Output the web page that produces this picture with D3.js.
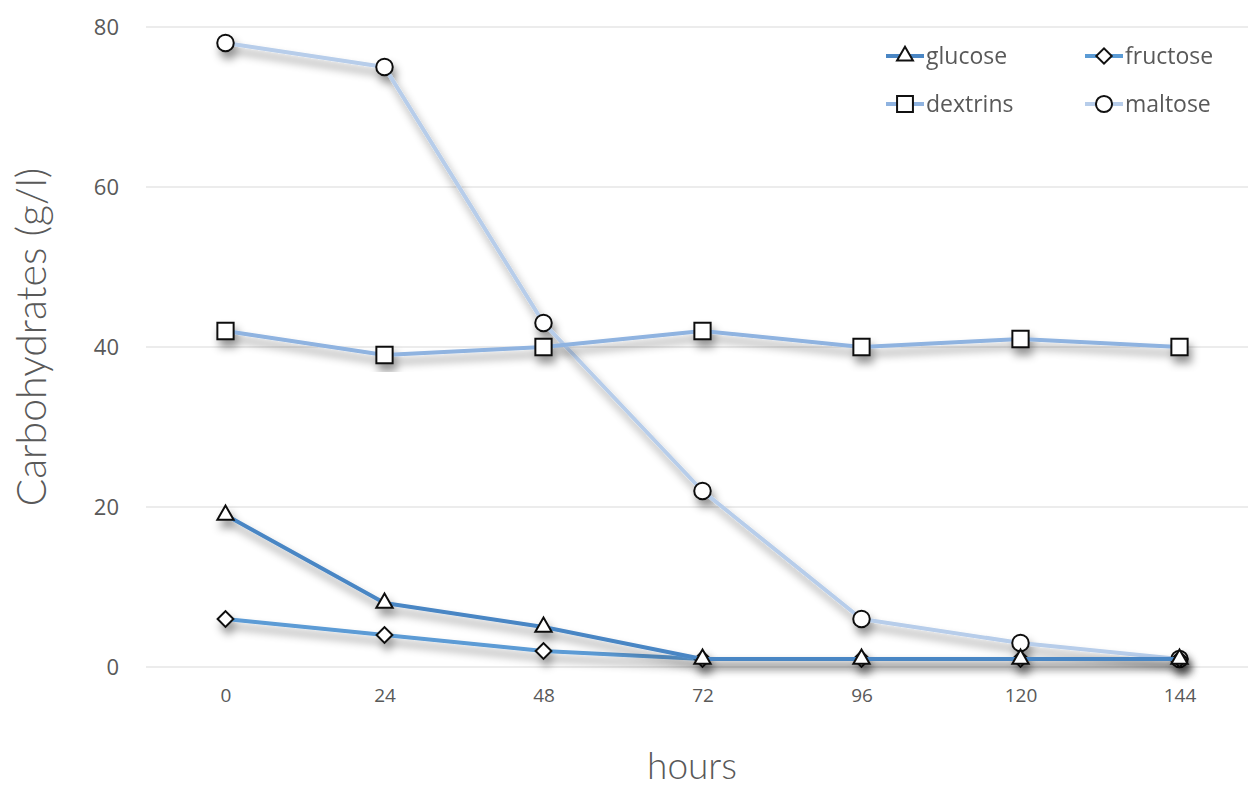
<!DOCTYPE html>
<html>
<head>
  <meta charset="utf-8">
  <script src="https://d3js.org/d3.v7.min.js"></script>
  <style>
    body { margin: 0; background: #fff; }
    .tick text { font-family: "Open Sans", sans-serif; fill: #595959; }
    .title { font-family: Lato, sans-serif; fill: #595959; font-weight: 300; }
    .legend text { font-family: "Open Sans", sans-serif; font-size: 23px; fill: #595959; }
  </style>
</head>
<body>
<div id="chart"></div>
<script>
  // data
  const hours = ["0", "24", "48", "72", "96", "120", "144"];
  const glucose = [19, 8, 5, 1, 1, 1, 1];
  const fructose = [6, 4, 2, 1, 1, 1, 1];
  const dextrins = [42, 39, 40, 42, 40, 41, 40];
  const maltose = [78, 75, 43, 22, 6, 3, 1];
  const yTicks = [0, 20, 40, 60, 80];

  const series = [
    { name: "glucose", values: glucose, color: "#4a86c4", shape: "tri" },
    { name: "fructose", values: fructose, color: "#5b9bd5", shape: "dia" },
    { name: "dextrins", values: dextrins, color: "#8fb3e0", shape: "sq" },
    { name: "maltose", values: maltose, color: "#b7cdea", shape: "circ" }
  ];

  const width = 1248, height = 790;
  const svg = d3.select("#chart").append("svg")
    .attr("width", width).attr("height", height);

  const defs = svg.append("defs");
  const f = defs.append("filter").attr("id", "shadow")
    .attr("x", "-20%").attr("y", "-20%").attr("width", "140%").attr("height", "140%");
  f.append("feDropShadow").attr("dx", 3).attr("dy", 7).attr("stdDeviation", 4)
    .attr("flood-color", "#000").attr("flood-opacity", 0.42);

  const x = d3.scalePoint().domain(hours).range([146, 1259]).padding(0.5);
  const y = d3.scaleLinear().domain([0, 80]).range([667, 27]);

  // gridlines
  svg.append("g").selectAll("line").data(yTicks).join("line")
    .attr("x1", 146).attr("x2", 1259)
    .attr("y1", d => y(d)).attr("y2", d => y(d))
    .attr("stroke", "#d9d9d9").attr("stroke-width", 1.2);

  // y axis labels
  const yAxis = svg.append("g").attr("transform", "translate(119,0)")
    .call(d3.axisLeft(y).tickValues(yTicks).tickSize(0).tickPadding(0));
  yAxis.select(".domain").remove();
  yAxis.selectAll("text").attr("font-size", 22);

  // x axis labels
  const xAxis = svg.append("g").attr("transform", "translate(0,688)")
    .call(d3.axisBottom(x).tickSize(0).tickPadding(0));
  xAxis.select(".domain").remove();
  xAxis.selectAll("text").attr("font-size", 19);

  // titles
  svg.append("text").attr("class", "title")
    .attr("transform", "translate(46,337) rotate(-90)")
    .attr("text-anchor", "middle").attr("font-size", 41)
    .text("Carbohydrates (g/l)");
  svg.append("text").attr("class", "title")
    .attr("x", 692).attr("y", 779)
    .attr("text-anchor", "middle").attr("font-size", 37)
    .text("hours");

  const line = d3.line().x((d, i) => x(hours[i])).y(d => y(d));
  const shapes = {
    tri: k => d3.symbol().type(d3.symbolTriangle).size(115 * k)(),
    dia: k => d3.symbol().type(d3.symbolSquare).size(125 * k)(),
    sq: k => d3.symbol().type(d3.symbolSquare).size(265 * k)(),
    circ: k => d3.symbol().type(d3.symbolCircle).size(215 * k)()
  };
  const rot = s => s === "dia" ? " rotate(45)" : "";

  // draw in reverse so glucose/fructose sit on top
  [...series].reverse().forEach(s => {
    const g = svg.append("g").attr("filter", "url(#shadow)");
    g.append("path").datum(s.values)
      .attr("d", line).attr("fill", "none")
      .attr("stroke", s.color).attr("stroke-width", 4)
      .attr("stroke-linejoin", "round");
    g.selectAll("path.m").data(s.values).join("path").attr("class", "m")
      .attr("transform", (d, i) => `translate(${x(hours[i])},${y(d)})` + rot(s.shape))
      .attr("d", shapes[s.shape](1))
      .attr("fill", "#fff").attr("stroke", "#111").attr("stroke-width", 2);
  });

  // legend
  const legendPos = [[886, 56], [1085, 56], [886, 104], [1085, 104]];
  const lg = svg.append("g").attr("class", "legend");
  series.forEach((s, i) => {
    const [lx, ly] = legendPos[i];
    const item = lg.append("g").attr("transform", `translate(${lx},${ly})`);
    item.append("line").attr("x1", 0).attr("x2", 38)
      .attr("stroke", s.color).attr("stroke-width", 4);
    item.append("path").attr("transform", "translate(19,0)" + rot(s.shape))
      .attr("d", shapes[s.shape](0.95))
      .attr("fill", "#fff").attr("stroke", "#111").attr("stroke-width", 2);
    item.append("text").attr("x", 40).attr("dy", "0.35em").text(s.name);
  });
</script>
</body>
</html>
